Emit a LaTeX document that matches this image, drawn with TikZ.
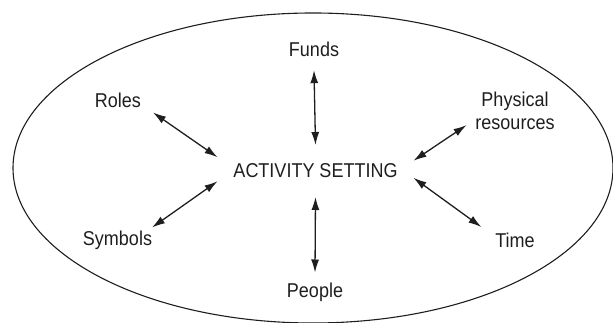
\documentclass[tikz,border=0pt]{standalone}
\usepackage{fontspec}
\setmainfont[FakeStretch=0.9]{Liberation Sans}
\usetikzlibrary{arrows.meta,calc}
\definecolor{ink}{HTML}{1E1E1E}
\tikzset{
  lbl/.style={inner sep=0pt, outer sep=0pt, text=ink, font=\fontsize{20}{23.5}\selectfont},
  link/.style={ink, line width=1.3pt, {Latex[length=13pt,width=8pt]}-{Latex[length=13pt,width=8pt]}},
  frame/.style={ink, line width=1.1pt}
}
\begin{document}
\begin{tikzpicture}[x=1pt,y=1pt]
\useasboundingbox (0,0) rectangle (613,323);
\draw[frame] (313,155) ellipse [x radius=300, y radius=155];
\node[lbl, minimum height=52pt, inner xsep=16pt] (as) at (315.5,152) {ACTIVITY SETTING};
\node[lbl, anchor=base] (funds) at (314,266) {Funds};
\node[lbl, anchor=base] (roles) at (118,215.7) {Roles};
\node[lbl, anchor=base, align=center] (phys) at (515,193) {Physical\\resources};
\node[lbl, anchor=base] (symbols) at (117.5,77) {Symbols};
\node[lbl, anchor=base] (time) at (515,75.5) {Time};
\node[lbl, anchor=base] (people) at (315,25) {People};
\draw[link] ($(funds.south)+(0,-13pt)$) -- (as.north);
\draw[link] (as.south) -- ($(people.north)+(0,11pt)$);
\draw[link] ($(roles.south east)+(12pt,-5pt)$) -- (as.172);
\draw[link] ($(symbols.north east)+(0,4pt)$) -- (as.186);
\draw[link] ($(phys.south west)+(-9pt,5pt)$) -- (as.6);
\draw[link] ($(time.north west)+(-14pt,6pt)$) -- (as.-4);
\end{tikzpicture}
\end{document}
